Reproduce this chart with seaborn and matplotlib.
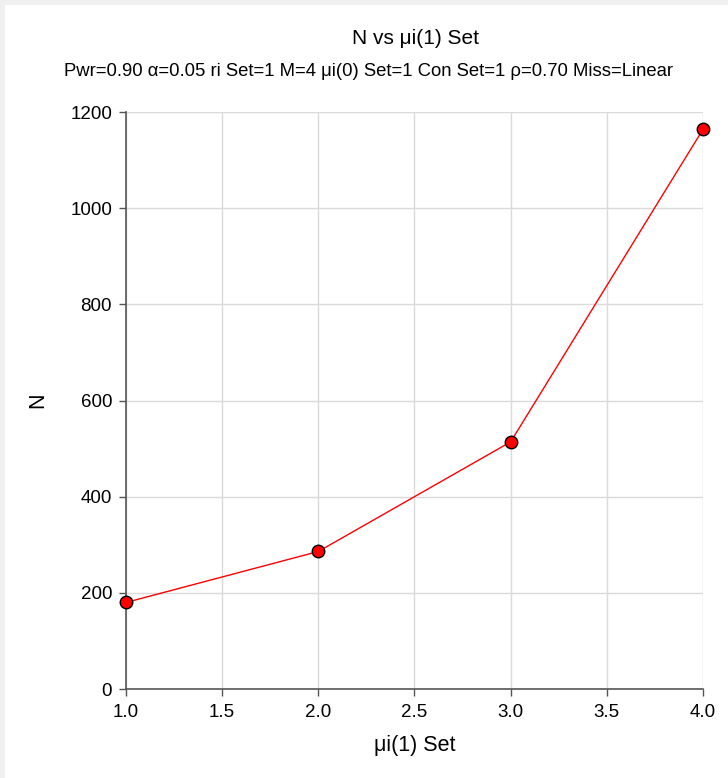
import numpy as np
import pandas as pd
import seaborn as sns
import matplotlib.pyplot as plt
from matplotlib.patches import Rectangle

# values
mu1_set = [1.0, 2.0, 3.0, 4.0]
n_values = [180, 286, 514, 1164]
x_ticks = [1.0, 1.5, 2.0, 2.5, 3.0, 3.5, 4.0]
y_ticks = [0, 200, 400, 600, 800, 1000, 1200]

df = pd.DataFrame({'mu1': mu1_set, 'N': n_values})

sns.set_style("whitegrid")
plt.rcParams['font.family'] = ['Liberation Sans', 'DejaVu Sans']
plt.rcParams['text.color'] = 'black'

W, H = 728, 778
fig = plt.figure(figsize=(W / 100, H / 100), dpi=100, facecolor='white')
# thin grey frame along the top and left edges
border = '#f0f0f0'
fig.patches.append(Rectangle((0, 1 - 5 / H), 1, 5 / H, transform=fig.transFigure,
                             facecolor=border, edgecolor='none'))
fig.patches.append(Rectangle((0, 0), 5 / W, 1, transform=fig.transFigure,
                             facecolor=border, edgecolor='none'))

ax = fig.add_axes([126 / W, 1 - 689 / H, 577 / W, 577 / H])
ax.set_facecolor('white')

sns.lineplot(data=df, x='mu1', y='N', ax=ax, color='red', linewidth=1,
             marker='o', markersize=9, markerfacecolor='red',
             markeredgecolor='black', markeredgewidth=1, clip_on=False, zorder=5)

ax.set_xlim(1.0, 4.0)
ax.set_ylim(0, 1200)
ax.set_xticks(x_ticks)
ax.set_xticklabels([f'{v:.1f}' for v in x_ticks])
ax.set_yticks(y_ticks)
ax.grid(True, color='#dadada', linewidth=1)

for side in ['top', 'right']:
    ax.spines[side].set_visible(False)
for side in ['left', 'bottom']:
    ax.spines[side].set_color('#555555')
    ax.spines[side].set_linewidth(1.2)

ax.tick_params(axis='both', bottom=True, left=True, direction='out', length=5,
               width=1, color='#555555', labelsize=13.5, labelcolor='black')
ax.tick_params(axis='x', pad=6)
ax.tick_params(axis='y', pad=5)

ax.set_xlabel('μi(1) Set', fontsize=15.5, color='black', va='center')
ax.set_ylabel('N', fontsize=15.5, color='black', va='center')
ax.xaxis.set_label_coords(0.5, (689 - 746) / 577)
ax.yaxis.set_label_coords((38 - 126) / 577, 0.5)

fig.text(415 / W, 1 - 38 / H, 'N vs μi(1) Set', ha='center', va='center',
         fontsize=15, color='black')
fig.text(369 / W, 1 - 71 / H,
         'Pwr=0.90 α=0.05 ri Set=1 M=4 μi(0) Set=1 Con Set=1 ρ=0.70 Miss=Linear',
         ha='center', va='center', fontsize=13.3, color='black')

fig.savefig('out.png', dpi=100, facecolor=fig.get_facecolor())
